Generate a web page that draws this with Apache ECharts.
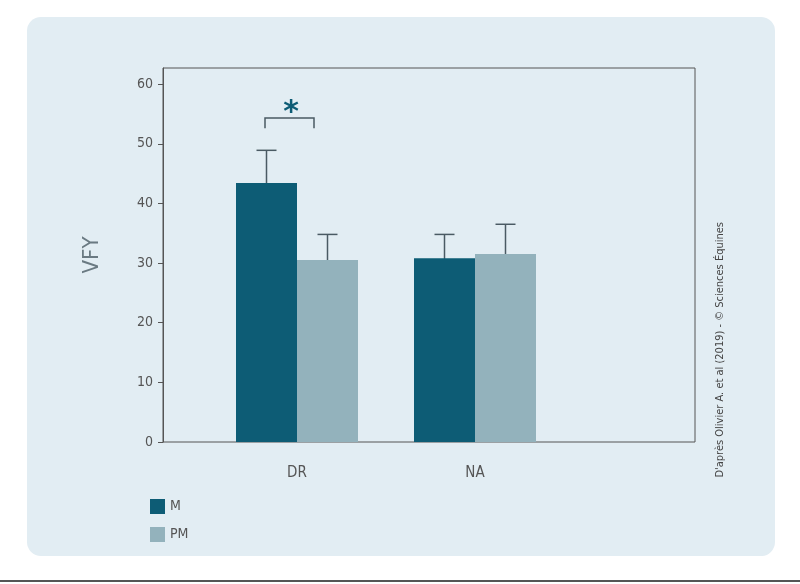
<!DOCTYPE html>
<html><head><meta charset="utf-8">
<script src="https://cdn.jsdelivr.net/npm/echarts@6/dist/echarts.min.js"></script>
<style>html,body{margin:0;background:#fff}
#panel{position:absolute;left:27px;top:17px;width:748px;height:539px;background:#e2edf3;border-radius:14px}
#container{position:absolute;left:0;top:0;width:800px;height:584px}
#rule{position:absolute;left:0;top:580px;width:800px;height:2px;background:#555}</style>
</head><body>
<div id="panel"></div><div id="rule"></div>
<div id="container"></div>
<script>
var categories = ['DR', 'NA', ''];
var mValues = [43.4, 30.8, null];
var pmValues = [30.5, 31.5, null];
var mErrTop = [48.9, 34.8, null];
var pmErrTop = [34.8, 36.5, null];
var yTicks = [0, 10, 20, 30, 40, 50, 60];

var dom = document.getElementById('container');
var myChart = echarts.init(dom);
var M_COLOR = '#0d5c75', PM_COLOR = '#93b2bc', LINE = '#4a5a63';
var FONT = 'Liberation Sans Narrow, DejaVu Sans Condensed, sans-serif';

function errorSeries(tops, shift) {
    return {
        type: 'custom', xAxisIndex: 1, yAxisIndex: 1, z: 1,
        data: tops.map(function (t, i) { return t == null ? null : [i, t]; }).filter(Boolean),
        renderItem: function (params, api) {
            var top = api.coord([api.value(0), api.value(1)]);
            var base = api.coord([api.value(0), 0]);
            var x = top[0] + shift;
            return {
                type: 'group', children: [
                    {type: 'line', shape: {x1: x, y1: top[1], x2: x, y2: base[1]}, style: {stroke: LINE, lineWidth: 1.5}},
                    {type: 'line', shape: {x1: x - 10, y1: top[1], x2: x + 10, y2: top[1]}, style: {stroke: LINE, lineWidth: 1.5}}
                ]
            };
        }
    };
}

option = {
    animation: false,
    grid: [
        {left: 163, top: 68, width: 532, height: 374, show: true, borderColor: '#555', borderWidth: 1, backgroundColor: 'transparent'},
        {left: 208, top: 68, width: 534, height: 374}
    ],
    xAxis: [
        {gridIndex: 0, type: 'value', show: false, min: 0, max: 1},
        {gridIndex: 1, type: 'category', data: categories, axisLine: {show: false}, axisTick: {show: false},
         axisLabel: {color: '#555', fontSize: 15, fontFamily: FONT, margin: 24}}
    ],
    yAxis: [
        {gridIndex: 0, type: 'value', min: 0, max: 62.7, interval: 10, splitLine: {show: false},
         axisLine: {show: true, lineStyle: {color: '#555'}}, axisTick: {show: true, length: 5, lineStyle: {color: '#555'}},
         axisLabel: {color: '#555', fontSize: 14, fontFamily: FONT, showMaxLabel: false, margin: 10},
         name: 'VFY', nameLocation: 'middle', nameGap: 60, nameTextStyle: {color: '#6a7a82', fontSize: 22, fontFamily: FONT}},
        {gridIndex: 1, type: 'value', min: 0, max: 62.7, show: false}
    ],
    series: [
        errorSeries(mErrTop, -30.5),
        errorSeries(pmErrTop, 30.5),
        {type: 'bar', name: 'M', xAxisIndex: 1, yAxisIndex: 1, data: mValues, barWidth: 61, barGap: '0%', itemStyle: {color: M_COLOR}, z: 2},
        {type: 'bar', name: 'PM', xAxisIndex: 1, yAxisIndex: 1, data: pmValues, barWidth: 61, barGap: '0%', itemStyle: {color: PM_COLOR}, z: 2},
        {
            type: 'custom', xAxisIndex: 1, yAxisIndex: 1, z: 3, data: [[0, 54.3]],
            renderItem: function (params, api) {
                var p = api.coord([api.value(0), api.value(1)]);
                var d = api.coord([api.value(0), 52.6]);
                return {type: 'group', children: [
                    {type: 'polyline', shape: {points: [[p[0] - 32, d[1]], [p[0] - 32, p[1]], [p[0] + 17, p[1]], [p[0] + 17, d[1]]]}, style: {stroke: LINE, lineWidth: 1.5, fill: null}},
                    {type: 'text', style: {text: '*', x: p[0] - 6, y: p[1] - 8, fill: M_COLOR, fontSize: 30, fontWeight: 'bold', align: 'center', verticalAlign: 'bottom', fontFamily: 'DejaVu Sans'}, position: [0, 18]}
                ]};
            }
        }
    ],
    legend: {
        left: 145, top: 494, orient: 'vertical', itemWidth: 15, itemHeight: 15, itemGap: 13, icon: 'rect',
        data: ['M', 'PM'], textStyle: {color: '#555', fontSize: 14, fontFamily: FONT}
    },
    graphic: [{
        type: 'text', left: 715, top: 222, rotation: Math.PI / 2,
        style: {text: "D'après Olivier A. et al (2019) - © Sciences Équines", fill: '#444', fontSize: 11, fontFamily: FONT}
    }]
};
myChart.setOption(option, true);
</script>
</body></html>
